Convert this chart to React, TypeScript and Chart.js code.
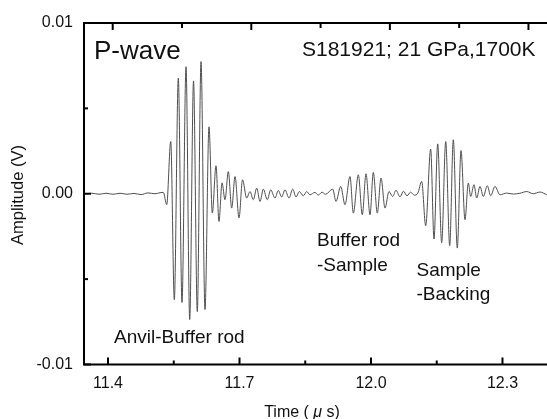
import React, { useEffect, useRef } from 'react';
import { Chart, registerables } from 'chart.js';

Chart.register(...registerables);

const TIME_US = [
  11.3475, 11.3635, 11.3795, 11.3954, 11.4114, 11.4274, 11.4433, 11.4593, 11.4753, 11.4913,
  11.5072, 11.5186, 11.5262, 11.5339,
  11.5431, 11.5513, 11.5604, 11.5688, 11.5780, 11.5864, 11.5951, 11.6037, 11.6122, 11.6213,
  11.6304, 11.6380, 11.6464, 11.6532, 11.6601, 11.6669, 11.6745, 11.6822, 11.6898, 11.6989,
  11.7069, 11.7164, 11.7240, 11.7315, 11.7393, 11.7468, 11.7543, 11.7634, 11.7712, 11.7810,
  11.7885, 11.7963, 11.8038, 11.8130, 11.8214, 11.8289, 11.8364, 11.8456, 11.8533, 11.8609,
  11.8723, 11.8798, 11.8882, 11.8962,
  11.9127, 11.9202, 11.9309, 11.9407, 11.9521, 11.9597, 11.9711, 11.9802, 11.9886, 11.9978,
  12.0053, 12.0144, 12.0229, 12.0320, 12.0411, 12.0495, 12.0571, 12.0662, 12.0742, 12.0822,
  12.0902, 12.0990, 12.1070,
  12.1157, 12.1248, 12.1362, 12.1438, 12.1522, 12.1613, 12.1705, 12.1796, 12.1878, 12.1969,
  12.2054, 12.2145, 12.2220, 12.2275, 12.2350, 12.2412, 12.2487, 12.2563, 12.2654, 12.2731,
  12.2829, 12.2943, 12.3096, 12.3247, 12.3400, 12.3553, 12.3703, 12.3856, 12.4009,
];

// Amplitude (V) at each of those times
const AMPLITUDE_V = [
  0, 0.00003, -0.00003, 0.00003, -0.00003, 0.00003, -0.00003, 0.00002, -0.00005, 0.00005,
  0, 0.00006, 0.00008, -0.00064,
  0.00306, -0.0062, 0.00677, -0.00637, 0.00744, -0.00737, 0.00661, -0.0069, 0.00774, -0.00678,
  0.00392, -0.00113, 0.00164, -0.00162, 0.00064, -0.00035, 0.0013, -0.00084, 0.00101, -0.00142,
  0.00082, -0.00025, 0.00013, -0.00035, 0.00033, -0.00045, 0.00027, -0.00035, 0.00023, -0.00025,
  0.00019, -0.00019, 0.00023, -0.00025, 0.00027, -0.00019, 0.00013, -0.00012, 0.00013, -0.00006,
  0.00008, -0.00008, 0.00009, -0.00003,
  0.00027, -0.00045, 0.00043, -0.00064, 0.00101, -0.00113, 0.00111, -0.00123, 0.00117, -0.00123,
  0.00125, -0.00113, 0.00092, -0.00084, 0.00013, -0.00016, 0.0002, -0.00018, 0.00015, -0.00012,
  0.00009, -0.00008, 0.00004,
  0.00072, -0.00187, 0.00261, -0.00265, 0.00292, -0.00287, 0.00306, -0.00304, 0.00316, -0.00318,
  0.00253, -0.00152, 0.00063, -0.00016, 0.00053, -0.00025, 0.00043, -0.00016, 0.00047, -0.00012,
  0.00043, -0.00006, 0.00004, -0.00002, 0.00003, 0.00013, 0, 0.0001, -0.00006,
];

// Axis ranges and ticks
const X_RANGE = [11.3452, 12.4016];
const Y_RANGE = [-0.01, 0.01];
const X_MAJOR = [11.4, 11.7, 12.0, 12.3];
const X_LABELS = ['11.4', '11.7', '12.0', '12.3'];
const X_MINOR = [11.55, 11.85, 12.15];
const TOP_MAJOR = [11.4107, 11.7269, 12.0431, 12.3593];
const TOP_MINOR = [11.5688, 11.885, 12.2012];
const Y_MAJOR = [-0.01, 0, 0.01];
const Y_LABELS = ['-0.01', '0.00', '0.01'];
const Y_MINOR = [-0.005, 0.005];

const FONT = '"Liberation Sans", Arial, Helvetica, sans-serif';

const overlay = {
  id: 'overlay',
  afterDraw(chart: any) {
    const { ctx, chartArea: a } = chart;
    const xs = chart.scales.x;
    const ys = chart.scales.y;
    ctx.save();
    ctx.strokeStyle = '#000';
    ctx.lineWidth = 2;
    ctx.beginPath();
    ctx.moveTo(a.left - 1, a.top);
    ctx.lineTo(a.right, a.top);
    ctx.moveTo(a.left, a.top - 1);
    ctx.lineTo(a.left, a.bottom + 1);
    ctx.moveTo(a.left - 1, a.bottom);
    ctx.lineTo(a.right, a.bottom);
    ctx.stroke();

    const seg = (x1: number, y1: number, x2: number, y2: number) => {
      ctx.beginPath();
      ctx.moveTo(x1, y1);
      ctx.lineTo(x2, y2);
      ctx.stroke();
    };
    ctx.lineWidth = 2;
    X_MAJOR.forEach((v) => { const p = xs.getPixelForValue(v); seg(p, a.bottom, p, a.bottom - 7); });
    X_MINOR.forEach((v) => { const p = xs.getPixelForValue(v); seg(p, a.bottom, p, a.bottom - 4); });
    TOP_MAJOR.forEach((v) => { const p = xs.getPixelForValue(v); seg(p, a.top, p, a.top + 7); });
    TOP_MINOR.forEach((v) => { const p = xs.getPixelForValue(v); seg(p, a.top, p, a.top + 5); });
    Y_MAJOR.forEach((v) => { const p = ys.getPixelForValue(v); seg(a.left, p, a.left + 7, p); });
    Y_MINOR.forEach((v) => { const p = ys.getPixelForValue(v); seg(a.left, p, a.left + 4, p); });

    ctx.fillStyle = '#111';
    ctx.font = `16px ${FONT}`;
    ctx.textAlign = 'center';
    ctx.textBaseline = 'alphabetic';
    X_MAJOR.forEach((v, i) => ctx.fillText(X_LABELS[i], xs.getPixelForValue(v), 388));
    ctx.textAlign = 'right';
    ctx.textBaseline = 'middle';
    Y_MAJOR.forEach((v, i) => ctx.fillText(Y_LABELS[i], 73, ys.getPixelForValue(v)));

    // axis titles
    ctx.save();
    ctx.translate(18, 195);
    ctx.rotate(-Math.PI / 2);
    ctx.textAlign = 'center';
    ctx.textBaseline = 'middle';
    ctx.font = `16.5px ${FONT}`;
    ctx.fillText('Amplitude (V)', 0, 0);
    ctx.restore();

    const parts: [string, string][] = [
      ['Time ( ', `16px ${FONT}`],
      ['\u03bc', `italic 16px ${FONT}`],
      [' s)', `16px ${FONT}`],
    ];
    let total = 0;
    parts.forEach(([t, f]) => { ctx.font = f; total += ctx.measureText(t).width; });
    let cx = 302 - total / 2;
    ctx.textAlign = 'left';
    ctx.textBaseline = 'alphabetic';
    parts.forEach(([t, f]) => { ctx.font = f; ctx.fillText(t, cx, 417); cx += ctx.measureText(t).width; });

    // annotations
    ctx.textAlign = 'left';
    ctx.font = `26px ${FONT}`;
    ctx.fillText('P-wave', 94, 58.5);
    ctx.font = `21px ${FONT}`;
    ctx.fillText('S181921; 21 GPa,1700K', 302, 56);
    ctx.font = `19px ${FONT}`;
    ctx.fillText('Anvil-Buffer rod', 114, 343);
    ctx.fillText('Buffer rod', 317, 246);
    ctx.fillText('-Sample', 317, 271);
    ctx.fillText('Sample', 416.5, 276);
    ctx.fillText('-Backing', 416.5, 300);
    ctx.restore();
  },
};

export default function App() {
  const ref = useRef<HTMLCanvasElement | null>(null);
  useEffect(() => {
    if (!ref.current) return;
    const points = TIME_US.map((t, i) => ({ x: t, y: AMPLITUDE_V[i] }));
    const chart = new Chart(ref.current, {
      type: 'line',
      data: {
        datasets: [
          {
            data: points,
            borderColor: '#505050',
            borderWidth: 1,
            pointRadius: 0,
            fill: false,
            cubicInterpolationMode: 'monotone',
          },
        ],
      },
      options: {
        animation: false,
        responsive: false,
        devicePixelRatio: 1,
        layout: { padding: { left: 84, right: 0, top: 23, bottom: 54.5 } },
        plugins: { legend: { display: false }, tooltip: { enabled: false } },
        scales: {
          x: { type: 'linear', display: false, min: X_RANGE[0], max: X_RANGE[1] },
          y: { type: 'linear', display: false, min: Y_RANGE[0], max: Y_RANGE[1] },
        },
      },
      plugins: [overlay],
    });
    return () => chart.destroy();
  }, []);
  return (
    <div style={{ position: 'fixed', left: 0, top: 0, width: 547, height: 419, background: '#fff' }}>
      <canvas ref={ref} width={547} height={419} style={{ display: 'block' }} />
    </div>
  );
}
